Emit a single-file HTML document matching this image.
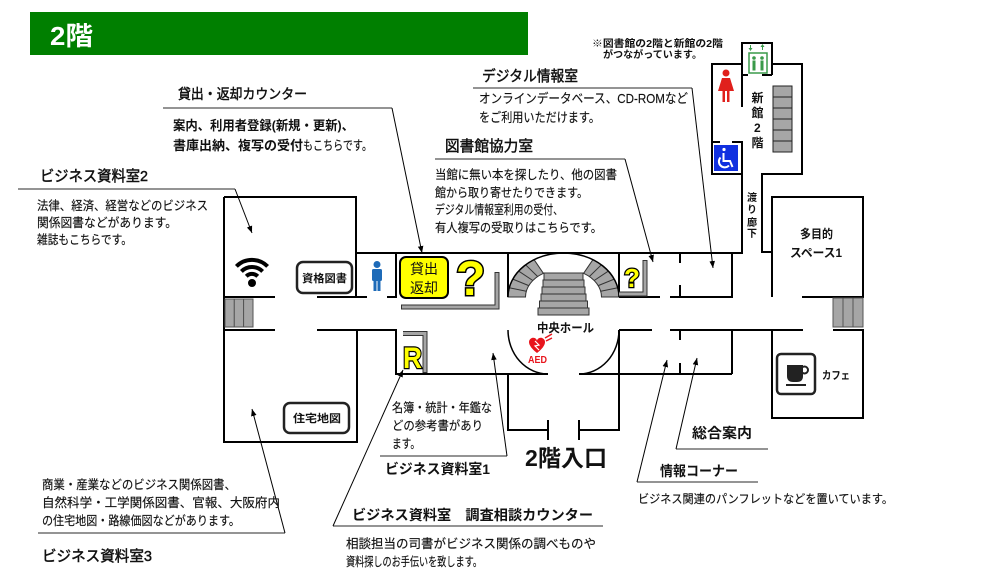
<!DOCTYPE html>
<html><head><meta charset="utf-8">
<style>
html,body{margin:0;padding:0;background:#fff;}
svg{display:block;}
text{font-family:"Liberation Sans","Noto Sans CJK JP",sans-serif;fill:#111;}
.b{font-weight:bold;}
.m{stroke:#111;stroke-width:0.45;}
.r{stroke:#111;stroke-width:0.15;}
</style></head>
<body>
<svg width="1008" height="571" viewBox="0 0 1008 571" xmlns="http://www.w3.org/2000/svg">
<defs>
<marker id="a" viewBox="0 0 10 10" refX="10" refY="5" markerWidth="7" markerHeight="7" orient="auto" markerUnits="userSpaceOnUse"><path d="M0,1 L10,5 L0,9 z" fill="#000"/></marker>
</defs>
<rect width="1008" height="571" fill="#fff"/>

<!-- header -->
<rect x="30" y="12" width="498" height="43" fill="#007f00"/>
<text x="50" y="45" font-size="26" class="b" style="fill:#fff" textLength="43" lengthAdjust="spacingAndGlyphs">2階</text>

<!-- walls -->
<g stroke="#000" stroke-width="2" fill="none">
<path d="M224,197 H356 V297"/>
<path d="M224,197 V442 H357 V330"/>
<path d="M224,297 H275 M317,297 H367 M387,297 H397"/>
<path d="M224,330 H275"/>
<path d="M317,330 H396 V374 H548"/>
<path d="M356,253 H742 V174 H712 V64 H742"/>
<path d="M742,75 V43 H772 V75"/>
<path d="M742,75 H748 M762,75 H772"/>
<path d="M742,75 V107"/>
<path d="M772,64 H802 V174 H762 V252 H772"/>
<path d="M712,142 H720 M732,142 H742 V174"/>
<path d="M396,253 V297 M508,253 V297 M619,253 V297"/>
<path d="M619,297 H660 M670,297 H732 V253"/>
<path d="M680,253 V263 M680,285 V297"/>
<path d="M772,297 V197 H863 V297 H802"/>
<path d="M619,330 H652 M670,330 H803"/>
<path d="M833,330 H863 V418 H772 V330"/>
<path d="M619,330 V430 H579 M579,420 V440 M548,420 V440 M548,430 H508 V374"/>
<path d="M680,330 V340 M680,363 V374 M732,330 V374 M579,374 H732"/>
</g>

<!-- hall -->
<g stroke="#000" stroke-width="1.5" fill="none">
<path d="M508,330 A40,44 0 0,0 548,374"/>
<path d="M619,330 A40,44 0 0,1 579,374"/>
</g>
<g fill="#a6a6a6" stroke="#333" stroke-width="1">
<path d="M508,297 A55.5,44 0 0,1 534.1,259.7 L543.4,273.3 A38,28 0 0,0 525.5,297 Z"/>
<path d="M619,297 A55.5,44 0 0,0 592.9,259.7 L583.6,273.3 A38,28 0 0,1 601.5,297 Z"/>
<path d="M509.2,287.8 L526.3,291.2 M512.8,279.1 L528.8,285.6 M518.6,271.1 L532.8,280.5 M525.6,264.8 L537.6,276.5" fill="none"/>
<path d="M617.8,287.8 L600.7,291.2 M614.2,279.1 L598.2,285.6 M608.4,271.1 L594.2,280.5 M601.4,264.8 L589.4,276.5" fill="none"/>
<rect x="544" y="273" width="39" height="7"/>
<rect x="543" y="280" width="41" height="7"/>
<rect x="542" y="287" width="43" height="7"/>
<rect x="541" y="294" width="45" height="7"/>
<rect x="539.5" y="301" width="48" height="7"/>
<rect x="538" y="308" width="51" height="7"/>
</g>
<path d="M508,297 A55.5,44 0 0,1 619,297" stroke="#000" stroke-width="1.5" fill="none"/>
<text x="537" y="332" font-size="12" class="b" textLength="57" lengthAdjust="spacingAndGlyphs">中央ホール</text>
<!-- AED -->
<path d="M537,353 C529,347 527,341 531,338.5 C534,336.5 537,339 537,341 C537,339 540,336.5 543,338.5 C547,341 545,347 537,353 Z" fill="#e8141c"/>
<path d="M535,341 L539,345 L535,346 L539,350" stroke="#fff" stroke-width="1.2" fill="none"/>
<path d="M545,338 L552,334 M546,341 L552,338" stroke="#e8141c" stroke-width="1.5"/>
<text x="528" y="363" font-size="10" class="b" style="fill:#e8141c" textLength="19" lengthAdjust="spacingAndGlyphs">AED</text>

<!-- stairs -->
<g fill="#a6a6a6" stroke="#555" stroke-width="1">
<rect x="225" y="299" width="9.3" height="28"/><rect x="234.3" y="299" width="9.3" height="28"/><rect x="243.6" y="299" width="9.4" height="28"/>
<rect x="833" y="298" width="10" height="29"/><rect x="843" y="298" width="10" height="29"/><rect x="853" y="298" width="10" height="29"/>
</g>
<g fill="#a6a6a6" stroke="#222" stroke-width="1">
<rect x="773" y="86" width="19" height="11"/><rect x="773" y="97" width="19" height="11"/><rect x="773" y="108" width="19" height="11"/>
<rect x="773" y="119" width="19" height="11"/><rect x="773" y="130" width="19" height="11"/><rect x="773" y="141" width="19" height="11"/>
</g>

<!-- wifi -->
<g stroke="#000" stroke-width="4" fill="none" stroke-linecap="butt">
<path d="M246.3,276.3 A8,8 0 0,1 257.7,276.3"/>
<path d="M241.4,271.4 A15,15 0 0,1 262.6,271.4"/>
<path d="M236.4,266.4 A22,22 0 0,1 267.6,266.4"/>
</g>
<circle cx="252" cy="283" r="4" fill="#000"/>

<!-- 資格図書 -->
<rect x="297" y="262" width="55" height="31" rx="6" fill="#fff" stroke="#222" stroke-width="2.5"/>
<text x="302" y="282" font-size="11" class="b" textLength="45" lengthAdjust="spacingAndGlyphs">資格図書</text>
<!-- 住宅地図 -->
<rect x="284" y="403" width="65" height="30" rx="6" fill="#fff" stroke="#222" stroke-width="2.5"/>
<text x="293" y="422" font-size="11" class="b" textLength="48" lengthAdjust="spacingAndGlyphs">住宅地図</text>

<!-- man -->
<g fill="#1e6bb8">
<circle cx="377" cy="264.5" r="3.5"/>
<rect x="372" y="269" width="10" height="12" rx="1.5"/>
<rect x="373.5" y="280" width="3" height="11"/><rect x="377.5" y="280" width="3" height="11"/>
</g>

<!-- 貸出返却 -->
<rect x="400" y="257" width="48" height="41" rx="6" fill="#ffff00" stroke="#000" stroke-width="2"/>
<text x="410" y="274" font-size="14" textLength="28" lengthAdjust="spacingAndGlyphs">貸出</text>
<text x="410" y="293" font-size="14" textLength="28" lengthAdjust="spacingAndGlyphs">返却</text>

<!-- big ? -->
<text x="456" y="295" font-size="48" class="b" style="fill:#ffff00;stroke:#000;stroke-width:3;paint-order:stroke;font-family:'Liberation Sans',sans-serif">?</text>
<path d="M401,307 H497 V272" stroke="#333" stroke-width="5" fill="none"/>
<path d="M402,307 H497 V273" stroke="#a6a6a6" stroke-width="3" fill="none"/>
<!-- R -->
<path d="M403,333.5 H425 V373" stroke="#333" stroke-width="5" fill="none"/>
<path d="M403,333.5 H425 V372" stroke="#a6a6a6" stroke-width="3" fill="none"/>
<text x="403" y="368" font-size="30" class="b" textLength="19" lengthAdjust="spacingAndGlyphs" style="fill:#ffff00;stroke:#000;stroke-width:2.5;paint-order:stroke;font-family:'Liberation Sans',sans-serif">R</text>
<!-- small ? -->
<path d="M619,294 H645 V260" stroke="#333" stroke-width="5" fill="none"/>
<path d="M619,294 H645 V261" stroke="#a6a6a6" stroke-width="3" fill="none"/>
<text x="624" y="287" font-size="26" class="b" style="fill:#ffff00;stroke:#000;stroke-width:2.5;paint-order:stroke;font-family:'Liberation Sans',sans-serif">?</text>

<!-- annex icons -->
<rect x="749" y="53" width="18" height="20" fill="#fff" stroke="#3a9a4a" stroke-width="1.5"/>
<g fill="#3a9a4a">
<circle cx="754" cy="58" r="1.8"/><rect x="752.5" y="60.5" width="3" height="10"/>
<circle cx="762" cy="58" r="1.8"/><rect x="760.5" y="60.5" width="3" height="10"/>
<path d="M750.5,45 V49 M762.5,50 V46" stroke="#3a9a4a" stroke-width="1"/>
<path d="M748.5,48 L752.5,48 L750.5,51 Z M760.5,47 L764.5,47 L762.5,44 Z"/>
</g>
<g fill="#e0201c">
<circle cx="726" cy="73" r="3.5"/>
<path d="M722,78 H730 L734,91 H718 Z"/>
<rect x="722.5" y="90" width="2.5" height="12"/><rect x="727" y="90" width="2.5" height="12"/>
</g>
<rect x="714" y="145" width="24" height="26" fill="#1030e0"/>
<g stroke="#fff" stroke-width="2" fill="none">
<circle cx="724" cy="149.5" r="1.6" fill="#fff" stroke="none"/>
<path d="M723.5,153 V161 H730 L732.5,167"/>
<path d="M720.5,157.5 A5.5,5.5 0 1,0 729,165.5"/>
</g>
<g class="b" font-size="12">
<text x="751.5" y="102">新</text>
<text x="751.5" y="117">館</text>
<text x="754" y="132" style="font-family:'Liberation Sans',sans-serif">2</text>
<text x="751.5" y="147">階</text>
</g>
<g class="b" font-size="10">
<text x="747" y="201">渡</text>
<text x="747" y="213">り</text>
<text x="747" y="226">廊</text>
<text x="747" y="237">下</text>
</g>
<text x="592" y="47" font-size="10" class="b" textLength="131" lengthAdjust="spacingAndGlyphs">※図書館の2階と新館の2階</text>
<text x="603" y="58" font-size="10" class="b" textLength="99" lengthAdjust="spacingAndGlyphs">がつながっています。</text>

<text x="800" y="238" font-size="12" class="b" textLength="33" lengthAdjust="spacingAndGlyphs">多目的</text>
<text x="790" y="257" font-size="12" class="b" textLength="52" lengthAdjust="spacingAndGlyphs">スペース1</text>

<!-- cafe -->
<rect x="777" y="354" width="38" height="40" rx="4" fill="#fff" stroke="#222" stroke-width="2.5"/>
<path d="M787,365 H803 V376 Q803,382 797,382 H793 Q787,382 787,376 Z" fill="#222"/>
<circle cx="804.5" cy="370" r="3.5" stroke="#222" stroke-width="2" fill="none"/>
<rect x="786" y="384" width="20" height="2" fill="#222"/>
<text x="822" y="379" font-size="11" class="b" textLength="28" lengthAdjust="spacingAndGlyphs">カフェ</text>

<text x="525" y="466" font-size="23" class="b" textLength="82" lengthAdjust="spacingAndGlyphs">2階入口</text>

<!-- callout lines -->
<g stroke="#707070" stroke-width="1.5">
<path d="M163,108 H392 M473,88 H692 M435,159 H625 M18,189 H235 M38,533 H285 M380,456 H507 M333,526 H603 M676,449 H768 M637,482 H758"/>
</g>
<g stroke="#000" stroke-width="1" fill="none" marker-end="url(#a)">
<path d="M392,108 L422,253"/>
<path d="M692,88 L713,268"/>
<path d="M625,159 L653,262"/>
<path d="M235,189 L252,233"/>
<path d="M285,533 L252,409"/>
<path d="M507,456 L493,353"/>
<path d="M333,526 L403,370"/>
<path d="M676,449 L697,358"/>
<path d="M637,482 L667,360"/>
</g>

<!-- callout texts -->
<text x="178" y="99" font-size="14" class="m" textLength="129" lengthAdjust="spacingAndGlyphs">貸出・返却カウンター</text>
<text x="173" y="130" font-size="13" class="b" textLength="181" lengthAdjust="spacingAndGlyphs">案内、利用者登録(新規・更新)、</text>
<text x="173" y="150" font-size="13" class="b" textLength="130" lengthAdjust="spacingAndGlyphs">書庫出納、複写の受付</text>
<text x="303" y="150" font-size="13" class="r" textLength="69" lengthAdjust="spacingAndGlyphs">もこちらです。</text>

<text x="482" y="81" font-size="15" class="m" textLength="96" lengthAdjust="spacingAndGlyphs">デジタル情報室</text>
<text x="479" y="103" font-size="13" class="r" textLength="209" lengthAdjust="spacingAndGlyphs">オンラインデータベース、CD-ROMなど</text>
<text x="479" y="122" font-size="13" class="r" textLength="121" lengthAdjust="spacingAndGlyphs">をご利用いただけます。</text>

<text x="445" y="151" font-size="15" class="m" textLength="88" lengthAdjust="spacingAndGlyphs">図書館協力室</text>
<text x="435" y="179" font-size="12.5" class="r" textLength="182" lengthAdjust="spacingAndGlyphs">当館に無い本を探したり、他の図書</text>
<text x="435" y="197" font-size="12.5" class="r" textLength="153" lengthAdjust="spacingAndGlyphs">館から取り寄せたりできます。</text>
<text x="435" y="214" font-size="12.5" class="r" textLength="128" lengthAdjust="spacingAndGlyphs">デジタル情報室利用の受付、</text>
<text x="435" y="232" font-size="12.5" class="r" textLength="167" lengthAdjust="spacingAndGlyphs">有人複写の受取りはこちらです。</text>

<text x="40" y="181" font-size="15" class="m" textLength="108" lengthAdjust="spacingAndGlyphs">ビジネス資料室2</text>
<text x="37" y="210" font-size="12.5" class="r" textLength="171" lengthAdjust="spacingAndGlyphs">法律、経済、経営などのビジネス</text>
<text x="37" y="227" font-size="12.5" class="r" textLength="140" lengthAdjust="spacingAndGlyphs">関係図書などがあります。</text>
<text x="37" y="244" font-size="12.5" class="r" textLength="95" lengthAdjust="spacingAndGlyphs">雑誌もこちらです。</text>

<text x="392" y="412" font-size="12.5" class="r" textLength="100" lengthAdjust="spacingAndGlyphs">名簿・統計・年鑑な</text>
<text x="392" y="430" font-size="12.5" class="r" textLength="91" lengthAdjust="spacingAndGlyphs">どの参考書があり</text>
<text x="392" y="448" font-size="12.5" class="r" textLength="28" lengthAdjust="spacingAndGlyphs">ます。</text>
<text x="385" y="474" font-size="14" class="b" textLength="105" lengthAdjust="spacingAndGlyphs">ビジネス資料室1</text>

<text x="352" y="520" font-size="14" class="b" textLength="241" lengthAdjust="spacingAndGlyphs">ビジネス資料室　調査相談カウンター</text>
<text x="346" y="548" font-size="12.5" class="r" textLength="250" lengthAdjust="spacingAndGlyphs">相談担当の司書がビジネス関係の調べものや</text>
<text x="346" y="566" font-size="12.5" class="r" textLength="136" lengthAdjust="spacingAndGlyphs">資料探しのお手伝いを致します。</text>

<text x="692" y="438" font-size="14" class="b" textLength="60" lengthAdjust="spacingAndGlyphs">総合案内</text>
<text x="660" y="476" font-size="14" class="b" textLength="78" lengthAdjust="spacingAndGlyphs">情報コーナー</text>
<text x="638" y="503" font-size="12" class="r" textLength="255" lengthAdjust="spacingAndGlyphs">ビジネス関連のパンフレットなどを置いています。</text>

<text x="42" y="489" font-size="12.5" class="r" textLength="194" lengthAdjust="spacingAndGlyphs">商業・産業などのビジネス関係図書、</text>
<text x="42" y="507" font-size="12.5" class="r" textLength="238" lengthAdjust="spacingAndGlyphs">自然科学・工学関係図書、官報、大阪府内</text>
<text x="42" y="525" font-size="12.5" class="r" textLength="198" lengthAdjust="spacingAndGlyphs">の住宅地図・路線価図などがあります。</text>
<text x="42" y="561" font-size="15" class="m" textLength="110" lengthAdjust="spacingAndGlyphs">ビジネス資料室3</text>
</svg>
</body></html>
